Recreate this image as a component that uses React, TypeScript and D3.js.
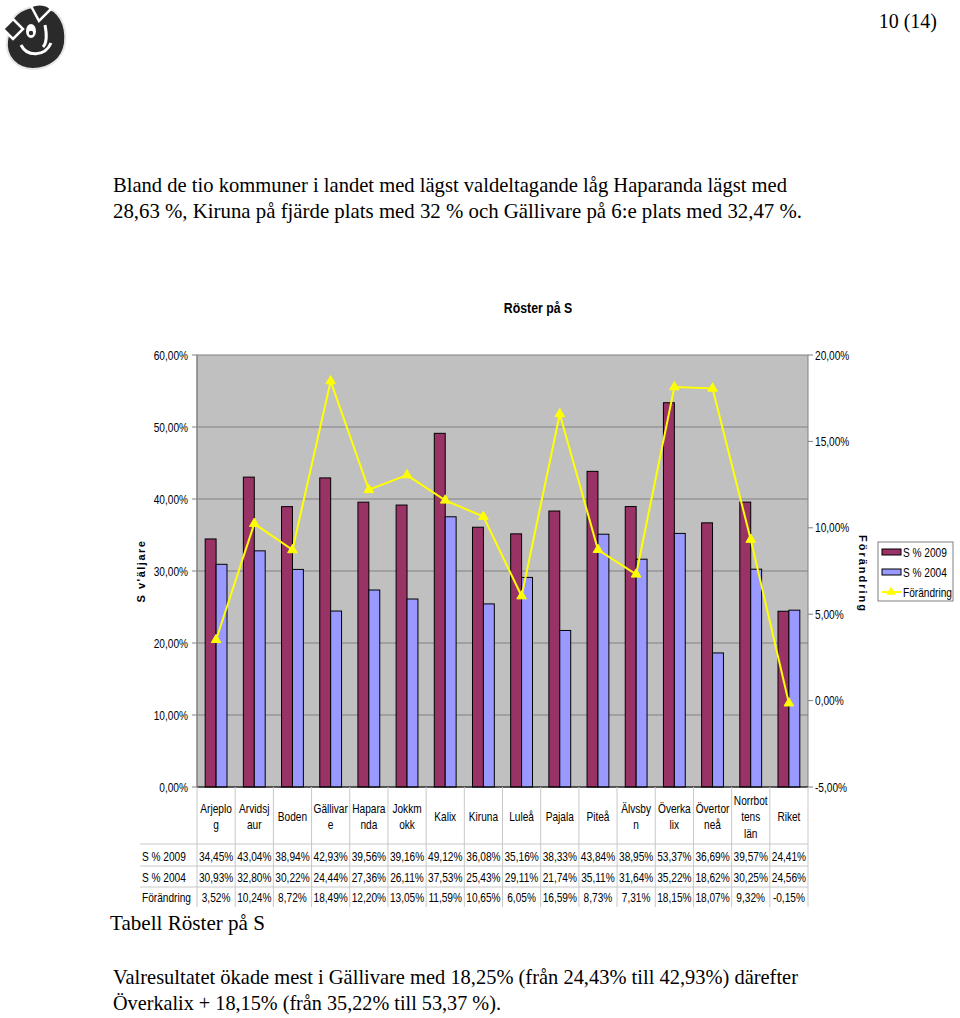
import React from "react";
import * as d3 from "d3";

const categoryLabels: string[][] = [
  ["Arjeplo", "g"], ["Arvidsj", "aur"], ["Boden"], ["Gällivar", "e"], ["Hapara", "nda"],
  ["Jokkm", "okk"], ["Kalix"], ["Kiruna"], ["Luleå"], ["Pajala"], ["Piteå"],
  ["Älvsby", "n"], ["Överka", "lix"], ["Övertor", "neå"], ["Norrbot", "tens", "län"], ["Riket"],
];
const categories = categoryLabels.map((l) => l.join(""));
const s2009 = [34.45, 43.04, 38.94, 42.93, 39.56, 39.16, 49.12, 36.08, 35.16, 38.33, 43.84, 38.95, 53.37, 36.69, 39.57, 24.41];
const s2004 = [30.93, 32.80, 30.22, 24.44, 27.36, 26.11, 37.53, 25.43, 29.11, 21.74, 35.11, 31.64, 35.22, 18.62, 30.25, 24.56];
const change = [3.52, 10.24, 8.72, 18.49, 12.20, 13.05, 11.59, 10.65, 6.05, 16.59, 8.73, 7.31, 18.15, 18.07, 9.32, -0.15];
const seriesNames = ["S % 2009", "S % 2004", "Förändring"];
const leftTicks = [0, 10, 20, 30, 40, 50, 60];
const rightTicks = [-5, 0, 5, 10, 15, 20];

const C2009 = "#993366";
const C2004 = "#9999FF";
const CLINE = "#FFFF00";
const FONT = "Arial, 'Liberation Sans', sans-serif";
const SERIF = "'Liberation Serif', 'DejaVu Serif', serif";
const SX = 0.75;

const fmt = (v: number) => d3.format(".2f")(v).replace(".", ",").replace("−", "-") + "%";

const X0 = 197, X1 = 808, Y0 = 355, Y1 = 787;

function T({ x, y, children, anchor = "start", size = 13.5, weight = "normal", sx = SX, fill = "#000" }: any) {
  return (
    <text
      transform={`translate(${x},${y}) scale(${sx},1)`}
      textAnchor={anchor}
      fontFamily={FONT}
      fontSize={size}
      fontWeight={weight}
      fill={fill}
    >
      {children}
    </text>
  );
}

export default function App() {
  const x = d3.scaleBand<string>().domain(categories).range([X0, X1]).paddingInner(0).paddingOuter(0);
  const bw = x.bandwidth() / 3.5;
  const yL = d3.scaleLinear().domain([0, 60]).range([Y1, Y0]);
  const yR = d3.scaleLinear().domain([-5, 20]).range([Y1, Y0]);
  const cx = (c: string) => (x(c) as number) + x.bandwidth() / 2;
  const line = d3
    .line<number>()
    .x((_, i) => cx(categories[i]))
    .y((d) => yR(d));
  const tri = d3.symbol().type(d3.symbolTriangle).size(40)() as string;

  const rowY = [861, 882, 902];
  const rowLines = [844, 866, 887];
  const rows = [s2009, s2004, change];

  return (
    <svg width={960} height={1018} style={{ position: "absolute", left: 0, top: 0, background: "#fff" }}>
      <rect x={0} y={0} width={960} height={1018} fill="#fff" />
      {/* logo */}
      <g transform="translate(35,37)">
        <path
          d="M-26,-8 C-24,-24 -8,-32 8,-30 C24,-28 32,-12 30,6 C28,22 14,32 -2,32 C-18,32 -30,20 -28,4 Z"
          fill="#2a2a2a"
          stroke="#e6e6e6"
          strokeWidth={2}
        />
        <path d="M-32,-8 L-22,-18 L-12,-8 L-22,2 Z" fill="#2a2a2a" stroke="#fff" strokeWidth={2.5} />
        <path d="M-4,-31 C4,-34 12,-33 16,-28 L4,-16 Z" fill="#2a2a2a" stroke="#fff" strokeWidth={2.5} />
        <path d="M-14,8 C-8,20 10,20 16,6" fill="none" stroke="#fff" strokeWidth={3} />
        <path d="M10,-12 C12,-2 12,6 8,10" fill="none" stroke="#fff" strokeWidth={3} />
        <ellipse cx={-4} cy={-6} rx={5} ry={7} fill="#fff" />
        <circle cx={-4} cy={-4} r={2.2} fill="#2a2a2a" />
      </g>
      <text x={937} y={28} textAnchor="end" fontFamily={SERIF} fontSize={20}>10 (14)</text>

      <text x={113} y={192} fontFamily={SERIF} fontSize={21} textLength={674} lengthAdjust="spacingAndGlyphs">
        Bland de tio kommuner i landet med lägst valdeltagande låg Haparanda lägst med
      </text>
      <text x={113} y={218} fontFamily={SERIF} fontSize={21} textLength={689} lengthAdjust="spacingAndGlyphs">
        28,63 %, Kiruna på fjärde plats med 32 % och Gällivare på 6:e plats med 32,47 %.
      </text>

      {/* chart title */}
      <T x={538} y={313} anchor="middle" size={15} weight="bold" sx={0.82}>Röster på S</T>

      {/* plot area */}
      <rect x={X0} y={Y0} width={X1 - X0} height={Y1 - Y0} fill="#C0C0C0" stroke="#808080" strokeWidth={1} />
      {leftTicks.map((t) => (
        <g key={"gl" + t}>
          {t > 0 && t < 60 && <line x1={X0} x2={X1} y1={yL(t)} y2={yL(t)} stroke="#808080" strokeWidth={1} />}
          <line x1={X0 - 5} x2={X0} y1={yL(t)} y2={yL(t)} stroke="#808080" />
          <T x={188} y={yL(t) + 4.5} anchor="end">{fmt(t)}</T>
        </g>
      ))}
      {rightTicks.map((t) => (
        <g key={"gr" + t}>
          <line x1={X1} x2={X1 + 5} y1={yR(t)} y2={yR(t)} stroke="#808080" />
          <T x={815} y={yR(t) + 4.5}>{fmt(t)}</T>
        </g>
      ))}

      {/* bars */}
      {categories.map((c, i) => (
        <g key={"b" + c}>
          <rect
            x={(x(c) as number) + bw * 0.75}
            y={yL(s2009[i])}
            width={bw}
            height={Y1 - yL(s2009[i])}
            fill={C2009}
            stroke="#000"
            strokeWidth={1}
          />
          <rect
            x={(x(c) as number) + bw * 1.75}
            y={yL(s2004[i])}
            width={bw}
            height={Y1 - yL(s2004[i])}
            fill={C2004}
            stroke="#000"
            strokeWidth={1}
          />
        </g>
      ))}
      <line x1={X0} x2={X1} y1={Y1} y2={Y1} stroke="#000" strokeWidth={1} />
      <line x1={X0} x2={X0} y1={Y0} y2={Y1} stroke="#808080" strokeWidth={1} />

      {/* line series */}
      <path d={line(change) as string} fill="none" stroke={CLINE} strokeWidth={2} />
      {change.map((v, i) => (
        <path key={"m" + i} d={tri} transform={`translate(${cx(categories[i])},${yR(v)})`} fill={CLINE} stroke={CLINE} />
      ))}

      {/* axis titles */}
      <text
        transform={`translate(145,571) rotate(-90)`}
        textAnchor="middle"
        fontFamily={FONT}
        fontSize={11}
        fontWeight="bold"
        letterSpacing={1.5}
      >
        S v'äljare
      </text>
      <text
        transform={`translate(859,574) rotate(90)`}
        textAnchor="middle"
        fontFamily={FONT}
        fontSize={11}
        fontWeight="bold"
        letterSpacing={2}
      >
        Förändring
      </text>

      {/* legend */}
      <rect x={878} y={542} width={75} height={59} fill="#fff" stroke="#808080" />
      <rect x={882} y={549} width={19} height={6} fill={C2009} stroke="#000" />
      <T x={903} y={557}>{seriesNames[0]}</T>
      <rect x={882} y={569} width={19} height={6} fill={C2004} stroke="#000" />
      <T x={903} y={577}>{seriesNames[1]}</T>
      <line x1={882} x2={901} y1={592} y2={592} stroke={CLINE} strokeWidth={2} />
      <path d={tri} transform="translate(891,592)" fill={CLINE} />
      <T x={903} y={597}>{seriesNames[2]}</T>

      {/* data table */}
      {d3.range(categories.length + 1).map((k) => {
        const xx = k < categories.length ? (x(categories[k]) as number) : X1;
        return <line key={"tv" + k} x1={xx} x2={xx} y1={Y1} y2={907} stroke="#c8c8c8" strokeWidth={1} />;
      })}
      {rowLines.map((yy) => (
        <line key={"th" + yy} x1={140} x2={X1} y1={yy} y2={yy} stroke="#c8c8c8" strokeWidth={1} />
      ))}
      {categories.map((c, i) => {
        const lines = categoryLabels[i];
        const start = 821 - ((lines.length - 1) * 16.5) / 2;
        return (
          <g key={"h" + c}>
            {lines.map((l, j) => (
              <T key={j} x={cx(c)} y={start + j * 16.5} anchor="middle">{l}</T>
            ))}
          </g>
        );
      })}
      {rows.map((r, ri) => (
        <g key={"r" + ri}>
          <T x={142} y={rowY[ri]}>{seriesNames[ri]}</T>
          {r.map((v, i) => (
            <T key={i} x={cx(categories[i])} y={rowY[ri]} anchor="middle">{fmt(v)}</T>
          ))}
        </g>
      ))}

      <text x={110} y={930} fontFamily={SERIF} fontSize={21} textLength={155} lengthAdjust="spacingAndGlyphs">
        Tabell Röster på S
      </text>
      <text x={113} y={984} fontFamily={SERIF} fontSize={21} textLength={685} lengthAdjust="spacingAndGlyphs">
        Valresultatet ökade mest i Gällivare med 18,25% (från 24,43% till 42,93%) därefter
      </text>
      <text x={113} y={1010} fontFamily={SERIF} fontSize={21} textLength={388} lengthAdjust="spacingAndGlyphs">
        Överkalix + 18,15% (från 35,22% till 53,37 %).
      </text>
    </svg>
  );
}
